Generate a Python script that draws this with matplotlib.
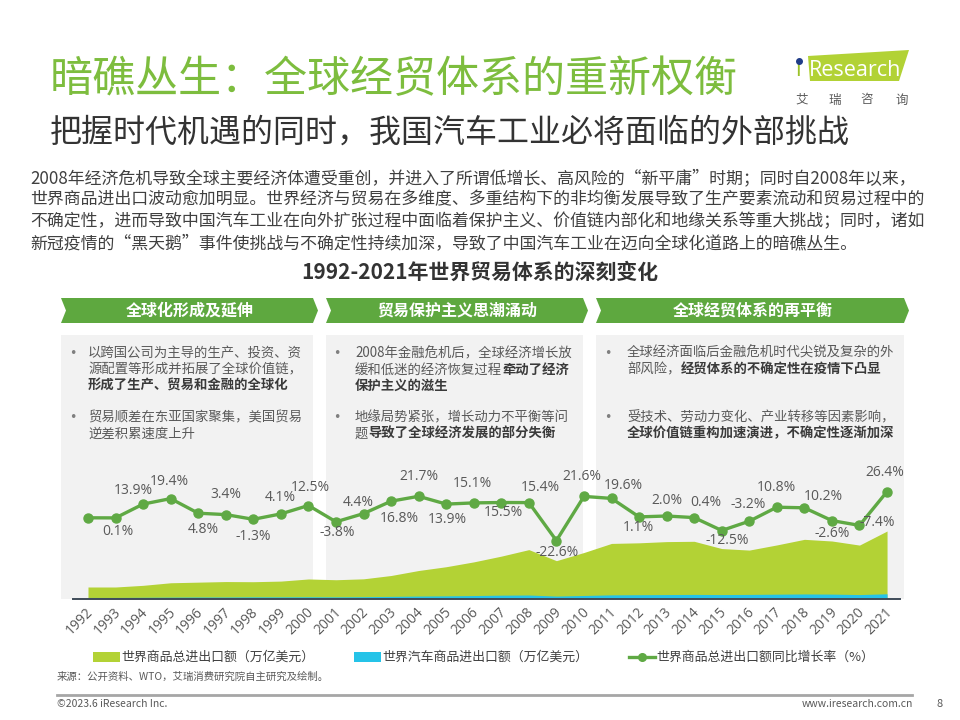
import matplotlib
matplotlib.use('Agg')
import matplotlib.pyplot as plt
from matplotlib.patches import Polygon, Rectangle
from matplotlib.lines import Line2D
import matplotlib.transforms as mtransforms

plt.rcParams['font.family'] = ['Noto Sans CJK SC', 'DejaVu Sans']

# ---------------- data ----------------
years = list(range(1992, 2022))
trade_total = [7.6, 7.6, 8.7, 10.4, 10.8, 11.2, 11.1, 11.5, 12.9, 12.4,
               13.0, 15.2, 18.5, 21.0, 24.2, 28.0, 32.3, 25.0, 30.4, 36.4,
               36.8, 37.6, 37.8, 33.0, 32.0, 35.4, 39.1, 38.0, 35.3, 44.6]
auto_trade = [0.7, 0.7, 0.8, 0.9, 1.0, 1.0, 1.1, 1.1, 1.15, 1.1,
              1.2, 1.4, 1.6, 1.75, 1.95, 2.2, 2.3, 1.6, 2.0, 2.4,
              2.5, 2.6, 2.7, 2.6, 2.7, 2.85, 3.0, 2.9, 2.6, 3.1]
growth = [0.2, 0.1, 13.9, 19.4, 4.8, 3.4, -1.3, 4.1, 12.5, -3.8,
          4.4, 16.8, 21.7, 13.9, 15.1, 15.5, 15.4, -22.6, 21.6, 19.6,
          1.1, 2.0, 0.4, -12.5, -3.2, 10.8, 10.2, -2.6, -7.4, 26.4]
growth_labels = [''] + [f'{v:.1f}%' for v in growth[1:]]

legend_labels = ['世界商品总进出口额（万亿美元）', '世界汽车商品进出口额（万亿美元）',
                 '世界商品总进出口额同比增长率（%）']

title = '暗礁丛生：全球经贸体系的重新权衡'
subtitle = '把握时代机遇的同时，我国汽车工业必将面临的外部挑战'
body_lines = [
    '2008年经济危机导致全球主要经济体遭受重创，并进入了所谓低增长、高风险的“新平庸”时期；同时自2008年以来，',
    '世界商品进出口波动愈加明显。世界经济与贸易在多维度、多重结构下的非均衡发展导致了生产要素流动和贸易过程中的',
    '不确定性，进而导致中国汽车工业在向外扩张过程中面临着保护主义、价值链内部化和地缘关系等重大挑战；同时，诸如',
    '新冠疫情的“黑天鹅”事件使挑战与不确定性持续加深，导致了中国汽车工业在迈向全球化道路上的暗礁丛生。',
]
chart_title = '1992-2021年世界贸易体系的深刻变化'
stage_titles = ['全球化形成及延伸', '贸易保护主义思潮涌动', '全球经贸体系的再平衡']
stage_bullets = [
    [
        [[('以跨国公司为主导的生产、投资、资', False)],
         [('源配置等形成并拓展了全球价值链，', False)],
         [('形成了生产、贸易和金融的全球化', True)]],
        [[('贸易顺差在东亚国家聚集，美国贸易', False)],
         [('逆差积累速度上升', False)]],
    ],
    [
        [[('2008年金融危机后，全球经济增长放', False)],
         [('缓和低迷的经济恢复过程', False), ('牵动了经济', True)],
         [('保护主义的滋生', True)]],
        [[('地缘局势紧张，增长动力不平衡等问', False)],
         [('题', False), ('导致了全球经济发展的部分失衡', True)]],
    ],
    [
        [[('全球经济面临后金融危机时代尖锐及复杂的外', False)],
         [('部风险，', False), ('经贸体系的不确定性在疫情下凸显', True)]],
        [[('受技术、劳动力变化、产业转移等因素影响，', False)],
         [('全球价值链重构加速演进，不确定性逐渐加深', True)]],
    ],
]
source_text = '来源：公开资料、WTO，艾瑞消费研究院自主研究及绘制。'
footer_left = '©2023.6 iResearch Inc.'
footer_right = 'www.iresearch.com.cn'
page_no = '8'
logo_cn = '艾瑞咨询'

# label offsets (pixels) for growth labels
label_offsets = [None, (2, -14), (-10, 14), (-1, 17), (5, -16), (0, 20), (0, -17),
                 (-1, 16), (2, 18), (1, -11), (-5, 11), (8, -17), (0, 20), (1, -15),
                 (-1, 19), (2, -10), (11, 15), (1, -12), (-2, 20), (12, 13), (-1, -11),
                 (0, 16), (12, 15), (6, -10), (-1, 17), (0, 20), (19, 11), (0, -13),
                 (18, 3), (-2, 19)]

# ---------------- colours ----------------
GREEN_TITLE = '#7DBD3E'
GREEN_DARK = '#5EA83F'
AREA_GREEN = '#B3D235'
AREA_BLUE = '#25C3E8'
LINE_GREEN = '#5FA944'
GRAY_BG = '#F2F2F2'
TXT = '#404040'
TXT2 = '#595959'

W, H = 960, 720
fig = plt.figure(figsize=(W / 100, H / 100), dpi=100)
fig.patch.set_facecolor('white')

bg = fig.add_axes([0, 0, 1, 1])
bg.set_xlim(0, W)
bg.set_ylim(H, 0)
bg.axis('off')
bg.set_zorder(0)

# titles
bg.text(50, 80, title, fontsize=31, color=GREEN_TITLE, va='center', ha='left')
bg.text(50, 133, subtitle, fontsize=23, color='#333333', va='center', ha='left')

# logo
bg.add_patch(Polygon([(808, 56), (909, 50), (899, 81), (810, 81)], closed=True,
                     facecolor='#B2D235', edgecolor='none'))
bg.text(795, 70, 'ı', fontsize=16, color='#9CC22A', va='center', ha='left',
        family=['Open Sans', 'DejaVu Sans'])
bg.plot([798.5], [61], marker='o', markersize=4, color='#1F3C88', zorder=5)
bg.text(809, 70, 'Research', fontsize=15.5, color='white', va='center', ha='left',
        family=['Open Sans', 'DejaVu Sans'])
for cx, ch in zip([802, 835, 867, 902], logo_cn):
    bg.text(cx, 100, ch, fontsize=9, color=TXT2, ha='center', va='center')

# body
for i, line in enumerate(body_lines):
    bg.text(30, 178 + i * 21.7, line, fontsize=12.2, color=TXT, va='center', ha='left')

bg.text(480, 272, chart_title, fontsize=15, fontweight='bold', color='#333333',
        ha='center', va='center')

# panels and chevrons
panels = [(61, 313), (326, 583), (596, 904)]
for (x0, x1) in panels:
    bg.add_patch(Rectangle((x0, 335), x1 - x0, 263.5, facecolor=GRAY_BG,
                           edgecolor='none', zorder=0))
for (x0, x1), st in zip(panels, stage_titles):
    pts = [(x0, 298), (x1, 298), (x1 + 5, 310.5), (x1, 323), (x0, 323), (x0 + 5, 310.5)]
    bg.add_patch(Polygon(pts, closed=True, facecolor=GREEN_DARK, edgecolor='none', zorder=1))
    bg.text((x0 + x1 + 5) / 2, 310.5, st, fontsize=11.5, fontweight='bold', color='white',
            ha='center', va='center', zorder=2)

bullet_x = [73, 337, 608]
text_x = [88, 355, 627]
bullet_y = [[353, 417], [353, 417], [353, 417]]
for p, bullets in enumerate(stage_bullets):
    for b, lines in enumerate(bullets):
        y0 = bullet_y[p][b]
        bg.text(bullet_x[p], y0, '•', fontsize=9, color='#7F7F7F', ha='center', va='center',
                family=['DejaVu Sans'])
        for li, segs in enumerate(lines):
            y = y0 + li * 16.5
            prev = None
            for seg, bold in segs:
                kw = dict(fontsize=9.6, color='#3A3A3A' if bold else TXT2,
                          fontweight='bold' if bold else 'normal', va='center')
                if prev is None:
                    prev = bg.text(text_x[p], y, seg, ha='left', **kw)
                else:
                    prev = bg.annotate(seg, xy=(1, 0.5), xycoords=prev, ha='left', **kw)

# ---------------- chart ----------------
left, right, bottom, top = 73, 900, 598.5, 336
ax = fig.add_axes([left / W, (H - bottom) / H, (right - left) / W, (bottom - top) / H])
ax.set_zorder(1)
ax.patch.set_visible(False)
px_per_T = 1.513
ax.set_ylim(0, (bottom - top) / px_per_T)
ax.set_xlim(1991.456, 2021.47)
ax.fill_between(years, trade_total, 0, color=AREA_GREEN, linewidth=0, zorder=1)
ax.fill_between(years, auto_trade, 0, color=AREA_BLUE, linewidth=0, zorder=2)
for s in ['top', 'left', 'right']:
    ax.spines[s].set_visible(False)
ax.spines['bottom'].set_color('#3F4B58')
ax.spines['bottom'].set_linewidth(1.4)
ax.set_yticks([])
ax.set_xticks(years)
ax.set_xticklabels([str(y) for y in years], rotation=45, ha='right', va='center',
                   rotation_mode='anchor', fontsize=10, color=TXT2,
                   family=['Open Sans', 'DejaVu Sans'])
ax.tick_params(axis='x', length=0, pad=8)
offset = mtransforms.ScaledTranslation(3 / 100, 0, fig.dpi_scale_trans)
for lab in ax.get_xticklabels():
    lab.set_transform(lab.get_transform() + offset)

ax2 = ax.twinx()
ax2.set_zorder(2)
ax2.patch.set_visible(False)
zero_y = 518.0
ax2.set_ylim(-(bottom - zero_y), (zero_y - top))
for s in ax2.spines.values():
    s.set_visible(False)
ax2.set_yticks([])
ax2.plot(years, growth, color=LINE_GREEN, lw=2.4, marker='o', markersize=6.5,
         markerfacecolor=LINE_GREEN, markeredgecolor=LINE_GREEN, zorder=3)
for x, v, lab, off in zip(years, growth, growth_labels, label_offsets):
    if not lab or off is None:
        continue
    ax2.annotate(lab, xy=(x, v), xytext=off, textcoords='offset pixels',
                 ha='center', va='center', fontsize=10, color=TXT2,
                 family=['Open Sans', 'DejaVu Sans'], zorder=4)

# ---------------- legend (manual) ----------------
ly = 657
bg.add_patch(Rectangle((93, ly - 5), 27, 10, facecolor=AREA_GREEN, edgecolor='none'))
bg.text(121, ly, legend_labels[0], fontsize=9.3, color=TXT, va='center', ha='left')
bg.add_patch(Rectangle((354, ly - 5), 27, 10, facecolor=AREA_BLUE, edgecolor='none'))
bg.text(382, ly, legend_labels[1], fontsize=9.3, color=TXT, va='center', ha='left')
bg.add_line(Line2D([629, 655], [ly, ly], color=LINE_GREEN, lw=2.4))
bg.add_line(Line2D([642], [ly], color=LINE_GREEN, marker='o', markersize=5.5))
bg.text(656, ly, legend_labels[2], fontsize=9.3, color=TXT, va='center', ha='left')

# footer
bg.text(57, 677, source_text, fontsize=7.5, color=TXT2, va='center', ha='left')
bg.add_line(Line2D([57, 912], [695, 695], color='#A6A6A6', lw=2))
bg.text(57, 704, footer_left, fontsize=7.5, color=TXT2, va='center', ha='left')
bg.text(913, 704, footer_right, fontsize=7.5, color=TXT2, va='center', ha='right')
bg.text(940, 704, page_no, fontsize=8, color=TXT2, va='center', ha='center')

fig.savefig('out.png', dpi=100)
